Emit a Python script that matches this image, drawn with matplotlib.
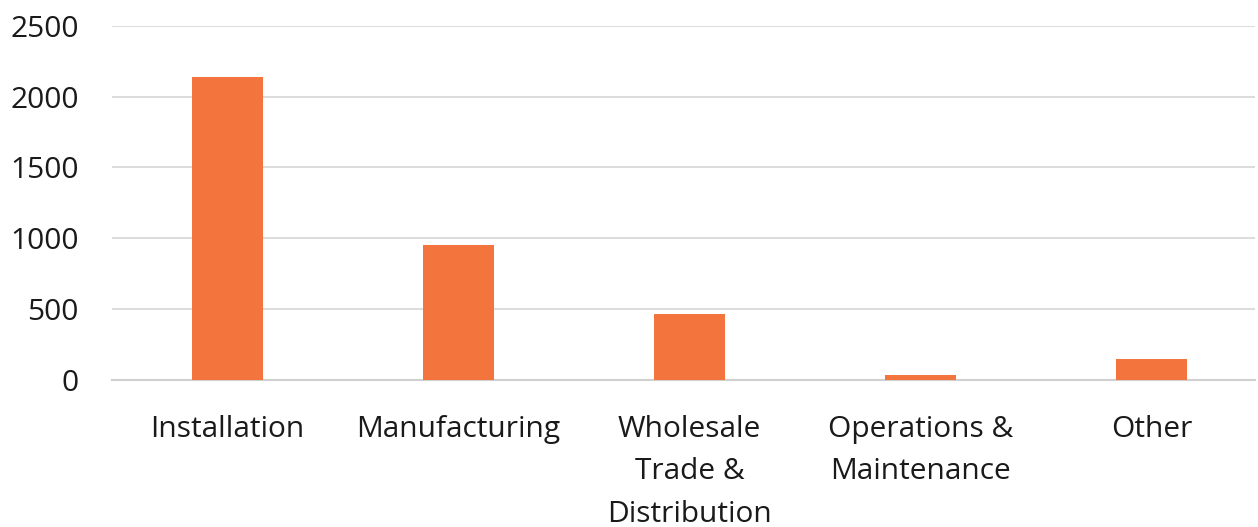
import numpy as np
import matplotlib.pyplot as plt

plt.rcParams['font.family'] = ['Open Sans', 'DejaVu Sans']

categories = ['Installation', 'Manufacturing', 'Wholesale\nTrade &\nDistribution',
              'Operations &\nMaintenance', 'Other']
values = [2140, 955, 466, 33, 148]
yticks = [0, 500, 1000, 1500, 2000, 2500]

fig = plt.figure(figsize=(12.58, 5.27), dpi=100)
ax = fig.add_axes([0.089, 0.279, 0.909, 0.672])

x = np.arange(len(categories))
ax.bar(x, values, width=0.307, color='#F4743E', zorder=3)

ax.set_ylim(0, 2500)
ax.set_xlim(-0.5, 4.45)
ax.set_yticks(yticks)
ax.set_yticklabels([str(v) for v in yticks])
ax.set_xticks(x)
ax.set_xticklabels(categories, linespacing=1.62, va='top')
ax.tick_params(axis='both', length=0, labelsize=21.5, colors='#1a1a1a')
ax.tick_params(axis='x', pad=25)
ax.tick_params(axis='y', pad=24)

ax.yaxis.grid(True, color='#d9d9d9', linewidth=1.3, zorder=0)
for s in ['top', 'right', 'left']:
    ax.spines[s].set_visible(False)
ax.spines['bottom'].set_color('#d0d0d0')
ax.spines['bottom'].set_linewidth(1.5)

fig.savefig('out.png', dpi=100)
